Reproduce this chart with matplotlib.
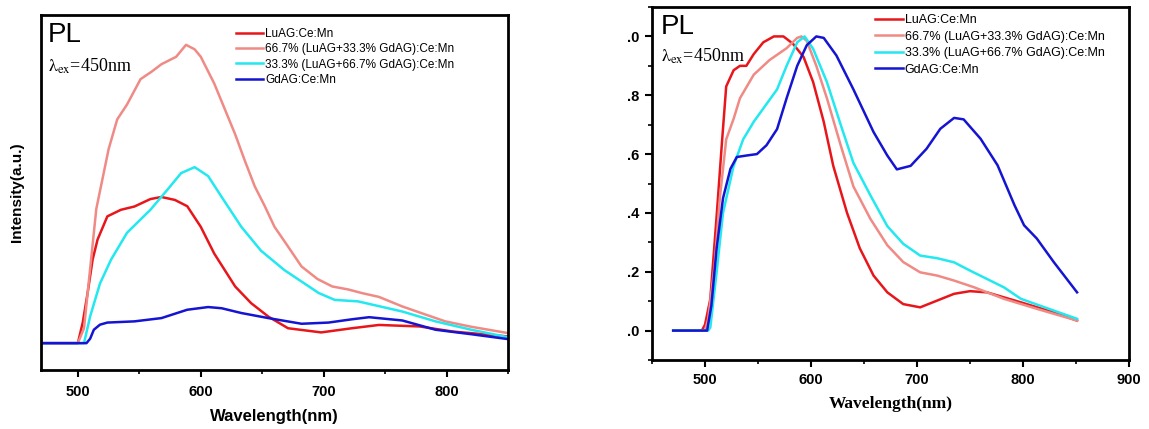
import matplotlib
matplotlib.use("Agg")
import matplotlib.pyplot as plt
from matplotlib.ticker import MultipleLocator

plt.rcParams['mathtext.fontset'] = 'stix'

labels = ["LuAG:Ce:Mn",
          "66.7% (LuAG+33.3% GdAG):Ce:Mn",
          "33.3% (LuAG+66.7% GdAG):Ce:Mn",
          "GdAG:Ce:Mn"]
colors = ["#e8161b", "#f08a85", "#22e8f0", "#1414d2"]

# ---- Left panel: absolute intensity (a.u.) ----
wl_red_a = [470, 500, 504, 508, 512, 516, 524, 535, 546, 559, 568, 579, 589, 600, 611, 628, 641, 655, 671, 698, 723, 745, 778, 805, 851]
in_red_a = [0, 0, 0.07, 0.17, 0.28, 0.347, 0.425, 0.447, 0.458, 0.483, 0.49, 0.48, 0.459, 0.39, 0.30, 0.19, 0.134, 0.089, 0.05, 0.036, 0.05, 0.061, 0.056, 0.039, 0.022]

wl_pink_a = [470, 500, 505, 510, 515, 520, 525, 532, 540, 551, 560, 568, 580, 588, 595, 600, 611, 620, 628, 636, 644, 652, 660, 670, 682, 695, 707, 720, 731, 745, 764, 780, 799, 820, 851]
in_pink_a = [0, 0, 0.05, 0.25, 0.45, 0.55, 0.65, 0.75, 0.80, 0.885, 0.91, 0.935, 0.96, 1.0, 0.985, 0.96, 0.87, 0.78, 0.70, 0.61, 0.525, 0.46, 0.39, 0.33, 0.257, 0.215, 0.19, 0.18, 0.168, 0.155, 0.123, 0.10, 0.073, 0.055, 0.033]

wl_cyan_a = [470, 505, 510, 518, 527, 540, 559, 573, 584, 595, 606, 617, 633, 649, 668, 696, 709, 728, 764, 791, 820, 851]
in_cyan_a = [0, 0, 0.09, 0.2, 0.28, 0.37, 0.447, 0.515, 0.57, 0.59, 0.56, 0.49, 0.39, 0.31, 0.245, 0.168, 0.145, 0.14, 0.106, 0.073, 0.045, 0.019]

wl_blue_a = [470, 507, 510, 513, 518, 524, 546, 568, 589, 606, 617, 633, 655, 682, 704, 723, 737, 764, 791, 820, 851]
in_blue_a = [0, 0, 0.015, 0.045, 0.062, 0.069, 0.073, 0.084, 0.112, 0.121, 0.117, 0.101, 0.084, 0.065, 0.069, 0.08, 0.087, 0.076, 0.045, 0.03, 0.013]

# ---- Right panel: normalized intensity ----
wl_red_n = [470, 497, 500, 505, 511, 516, 520, 527, 533, 539, 546, 555, 565, 574, 583, 593, 602, 612, 621, 634, 646, 659, 672, 687, 703, 719, 735, 750, 766, 798, 829, 851]
in_red_n = [0, 0, 0.02, 0.107, 0.39, 0.64, 0.83, 0.885, 0.90, 0.90, 0.94, 0.98, 1.0, 1.0, 0.975, 0.93, 0.845, 0.71, 0.56, 0.40, 0.28, 0.187, 0.13, 0.09, 0.079, 0.102, 0.125, 0.134, 0.13, 0.096, 0.062, 0.034]

wl_pink_n = [470, 500, 503, 509, 514, 520, 527, 533, 546, 561, 577, 587, 591, 596, 605, 615, 628, 640, 656, 672, 687, 703, 719, 735, 754, 782, 813, 851]
in_pink_n = [0, 0, 0.04, 0.22, 0.45, 0.65, 0.72, 0.79, 0.87, 0.92, 0.96, 0.995, 1.0, 0.985, 0.90, 0.79, 0.63, 0.49, 0.38, 0.29, 0.233, 0.198, 0.187, 0.170, 0.147, 0.108, 0.074, 0.034]

wl_cyan_n = [470, 503, 505, 511, 517, 527, 536, 546, 555, 568, 577, 587, 594, 602, 615, 628, 640, 656, 672, 687, 703, 719, 735, 750, 782, 798, 829, 851]
in_cyan_n = [0, 0, 0.01, 0.2, 0.4, 0.56, 0.65, 0.71, 0.755, 0.82, 0.90, 0.98, 1.0, 0.958, 0.845, 0.70, 0.57, 0.46, 0.355, 0.295, 0.255, 0.246, 0.232, 0.204, 0.147, 0.108, 0.068, 0.04]

wl_blue_n = [470, 502, 506, 511, 517, 524, 530, 539, 549, 558, 568, 577, 587, 596, 605, 612, 624, 640, 659, 672, 681, 694, 709, 722, 735, 744, 760, 776, 792, 801, 813, 829, 851]
in_blue_n = [0, 0, 0.085, 0.28, 0.45, 0.55, 0.59, 0.595, 0.60, 0.63, 0.685, 0.79, 0.90, 0.97, 1.0, 0.995, 0.935, 0.82, 0.675, 0.595, 0.548, 0.56, 0.618, 0.686, 0.723, 0.718, 0.652, 0.562, 0.426, 0.358, 0.313, 0.233, 0.13]

x_ticks = [500, 600, 700, 800, 900]
y_ticks_right = [0.0, 0.2, 0.4, 0.6, 0.8, 1.0]
y_ticklabels_right = [".0", ".2", ".4", ".6", ".8", ".0"]

W, H = 1149, 429
fig = plt.figure(figsize=(W / 100, H / 100), dpi=100)

def box(l, t, r, b):
    return [l / W, 1 - b / H, (r - l) / W, (b - t) / H]

sans = "Liberation Sans"
serif = "Liberation Serif"
lam = r"$\mathrm{\lambda}_{\mathrm{ex}}$=450nm"

# Left axes
ax1 = fig.add_axes(box(41, 15, 508, 370))
for wl, v, c, lab in zip([wl_red_a, wl_pink_a, wl_cyan_a, wl_blue_a],
                         [in_red_a, in_pink_a, in_cyan_a, in_blue_a], colors, labels):
    ax1.plot(wl, v, color=c, lw=1.8, label=lab)
ax1.set_xlim(470, 850)
ax1.set_ylim(-0.09, 1.10)
ax1.set_xticks(x_ticks[:4])
ax1.xaxis.set_minor_locator(MultipleLocator(50))
ax1.set_yticks([])
ax1.tick_params(axis='x', which='major', direction='out', length=5, width=1.5, pad=6)
ax1.tick_params(axis='x', which='minor', direction='out', length=3, width=1.2)
for lab in ax1.get_xticklabels():
    lab.set_fontfamily(sans); lab.set_fontweight('bold'); lab.set_fontsize(10.5)
for s in ax1.spines.values():
    s.set_linewidth(2)
ax1.set_xlabel("Wavelength(nm)", fontfamily=sans, fontweight='bold', fontsize=12, labelpad=7)
ax1.set_ylabel("Intensity(a.u.)", fontfamily=sans, fontweight='bold', fontsize=11, labelpad=12)
ax1.legend(loc='upper left', bbox_to_anchor=(0.418, 0.963), frameon=False,
           prop={'family': sans, 'size': 8.5}, handlelength=2.3, handletextpad=0.15,
           labelspacing=0.27, borderpad=0, borderaxespad=0)
fig.text(48 / W, 1 - 22 / H, "PL", fontfamily=sans, fontsize=20, va='top', ha='left')
fig.text(48 / W, 1 - 57 / H, lam, fontfamily=serif, fontsize=13, va='top', ha='left')

# Right axes
ax2 = fig.add_axes(box(652, 7, 1129, 360))
for wl, v, c, lab in zip([wl_red_n, wl_pink_n, wl_cyan_n, wl_blue_n],
                         [in_red_n, in_pink_n, in_cyan_n, in_blue_n], colors, labels):
    ax2.plot(wl, v, color=c, lw=1.8, label=lab)
ax2.set_xlim(450, 900)
ax2.set_ylim(-0.1, 1.1)
ax2.set_xticks(x_ticks)
ax2.xaxis.set_minor_locator(MultipleLocator(50))
ax2.set_yticks(y_ticks_right)
ax2.set_yticklabels(y_ticklabels_right)
ax2.yaxis.set_minor_locator(MultipleLocator(0.1))
ax2.tick_params(which='major', direction='out', length=5, width=1.5, pad=4)
ax2.tick_params(which='minor', direction='out', length=3, width=1.2)
for lab in ax2.get_xticklabels() + ax2.get_yticklabels():
    lab.set_fontfamily(sans); lab.set_fontweight('bold'); lab.set_fontsize(10.5)
for s in ax2.spines.values():
    s.set_linewidth(2)
ax2.set_xlabel("Wavelength(nm)", fontfamily=serif, fontweight='bold', fontsize=12.5,
               labelpad=7)
ax2.legend(loc='upper left', bbox_to_anchor=(0.468, 0.98), frameon=False,
           prop={'family': sans, 'size': 9}, handlelength=2.2, handletextpad=0.15,
           labelspacing=0.36, borderpad=0, borderaxespad=0)
fig.text(661 / W, 1 - 14 / H, "PL", fontfamily=sans, fontsize=20, va='top', ha='left')
fig.text(661 / W, 1 - 47 / H, lam, fontfamily=serif, fontsize=13, va='top', ha='left')

fig.savefig("out.png", dpi=100)
